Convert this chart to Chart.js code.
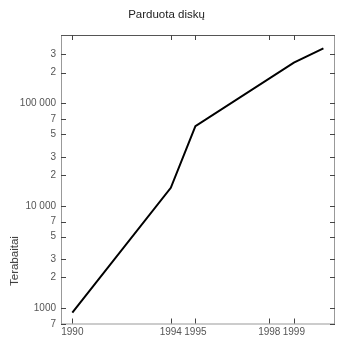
<!DOCTYPE html>
<html>
<head>
<meta charset="utf-8">
<script src="https://cdn.jsdelivr.net/npm/chart.js@4"></script>
<style>
  html, body { margin:0; padding:0; background:#fff; }
  #wrap { position:relative; width:350px; height:341px; font-family:"Liberation Sans", Arial, sans-serif; }
  #title { position:absolute; left:0; width:333px; top:8px; text-align:center; font-size:11.5px; color:#222; }
  #ytitle { position:absolute; left:14px; top:261px; font-size:11.5px; color:#333;
            transform:translate(-50%,-50%) rotate(-90deg); white-space:nowrap; }
</style>
</head>
<body>
<div id="wrap">
  <canvas id="c" width="350" height="341"></canvas>
  <div id="title">Parduota diskų</div>
  <div id="ytitle">Terabaitai</div>
</div>
<script>
  // ===== data =====
  const years = [1990, 1994, 1995, 1999, 2000.2];
  const sold = [905, 15000, 60000, 250000, 344000];
  const xTicks = [1990, 1994, 1995, 1998, 1999];
  const yTicks = [700, 1000, 2000, 3000, 5000, 7000, 10000, 20000, 30000, 50000, 70000,
                  100000, 200000, 300000];

  function yLabel(v){
    const p = Math.floor(Math.log10(v) + 1e-9);
    const lead = Math.round(v / Math.pow(10, p));
    if(lead !== 1) return String(lead);
    if(v < 10000) return String(v);
    return String(v).replace(/\B(?=(\d{3})+(?!\d))/g, ' ');
  }

  // inward ticks on all four sides + frame
  const frame = {
    id:'frame',
    afterDraw(chart){
      const {ctx, chartArea:a, scales:{x, y}} = chart;
      ctx.save();
      ctx.lineWidth = 1;
      ctx.strokeStyle = '#999';
      ctx.strokeRect(a.left + 0.5, a.top + 0.5, a.right - a.left, a.bottom - a.top);
      ctx.strokeStyle = '#555';
      ctx.beginPath(); ctx.moveTo(a.left, a.top + 0.5); ctx.lineTo(a.right + 1, a.top + 0.5); ctx.stroke();
      ctx.strokeStyle = '#444';
      ctx.beginPath();
      yTicks.forEach(v => {
        const py = Math.round(y.getPixelForValue(v)) + 0.5;
        ctx.moveTo(a.left, py); ctx.lineTo(a.left + 5, py);
        ctx.moveTo(a.right - 4, py); ctx.lineTo(a.right + 1, py);
      });
      xTicks.forEach(v => {
        const px = Math.round(x.getPixelForValue(v)) + 0.5;
        ctx.moveTo(px, a.bottom); ctx.lineTo(px, a.bottom - 5);
        ctx.moveTo(px, a.top); ctx.lineTo(px, a.top + 5);
      });
      ctx.stroke();
      ctx.restore();
    }
  };

  new Chart(document.getElementById('c'), {
    type:'line',
    data:{
      datasets:[{
        data: years.map((yr, i) => ({x: yr, y: sold[i]})),
        borderColor:'#000', borderWidth:2, pointRadius:0, tension:0, fill:false
      }]
    },
    options:{
      responsive:false, animation:false,
      layout:{ padding:{ top:35, right:16, left:0, bottom:0 } },
      plugins:{ legend:{display:false}, title:{display:false}, tooltip:{enabled:false} },
      scales:{
        x:{
          type:'linear', min:1989.54, max:2000.63,
          afterBuildTicks(s){ s.ticks = xTicks.map(v => ({value:v})); },
          afterFit(s){ s.height = 17.5; },
          grid:{ display:false, drawTicks:false },
          border:{ display:false },
          ticks:{ autoSkip:false, maxRotation:0, padding:3, color:'#555',
                  font:{ family:'Liberation Sans', size:10 }, callback:v => String(v) }
        },
        y:{
          type:'logarithmic', min:710, max:465000,
          afterBuildTicks(s){ s.ticks = yTicks.map(v => ({value:v})); },
          afterFit(s){ s.width = 61; },
          grid:{ display:false, drawTicks:false },
          border:{ display:false },
          ticks:{ autoSkip:false, padding:5, color:'#555',
                  font:{ family:'Liberation Sans', size:10 }, callback:v => yLabel(v) }
        }
      }
    },
    plugins:[frame]
  });
</script>
</body>
</html>
